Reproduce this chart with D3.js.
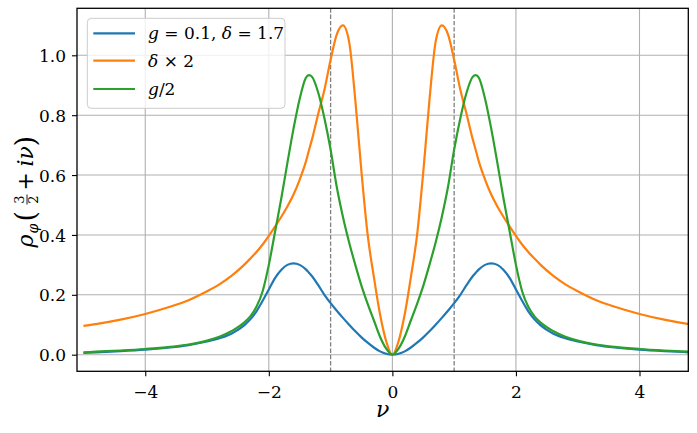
<!DOCTYPE html>
<html><head><meta charset="utf-8">
<script src="https://cdn.jsdelivr.net/npm/d3@7"></script>
<style>
html,body{margin:0;padding:0;background:#fff;}
svg{display:block;}
text{font-family:"DejaVu Serif","Liberation Serif",serif;fill:#000;}
</style></head>
<body>
<svg id="chart" width="697" height="433"></svg>
<script>
// ---- data ----
const nu = [-5.0,-4.8,-4.4,-4.0,-3.6,-3.3,-3.0,-2.8,-2.6,-2.4,-2.3,-2.2,-2.1,-2.0,-1.9,-1.8,-1.7,-1.6,-1.5,-1.4,-1.35,-1.3,-1.2,-1.1,-1.0,-0.9,-0.8,-0.7,-0.6,-0.5,-0.4,-0.3,-0.2,-0.1,
  0,
  0.1,0.2,0.3,0.4,0.5,0.6,0.7,0.8,0.9,1.0,1.1,1.2,1.3,1.35,1.4,1.5,1.6,1.7,1.8,1.9,2.0,2.1,2.2,2.3,2.4,2.6,2.8,3.0,3.3,3.6,4.0,4.4,4.8,5.0];

const rhoBase = [0.006,0.008,0.012,0.017,0.024,0.032,0.044,0.055,0.071,0.098,0.118,0.145,0.18,0.218,0.256,0.283,0.3,0.305,0.3,0.285,0.274,0.262,0.232,0.2,0.172,0.147,0.123,0.1,0.078,0.058,0.04,0.024,0.011,0.003,
  0,
  0.003,0.011,0.024,0.04,0.058,0.078,0.1,0.123,0.147,0.172,0.2,0.232,0.262,0.274,0.285,0.3,0.305,0.3,0.283,0.256,0.218,0.18,0.145,0.118,0.098,0.071,0.055,0.044,0.032,0.024,0.017,0.012,0.008,0.006];

const rhoDelta2 = [0.096,0.102,0.117,0.136,0.160,0.182,0.212,0.235,0.264,0.300,0.321,0.343,0.368,0.397,0.428,0.46,0.495,0.535,0.585,0.645,0.683,0.72,0.805,0.885,0.985,1.07,1.10,1.045,0.85,0.61,0.40,0.26,0.135,0.045,
  0,
  0.045,0.135,0.26,0.40,0.61,0.85,1.045,1.10,1.07,0.985,0.885,0.805,0.72,0.683,0.645,0.585,0.535,0.495,0.46,0.428,0.397,0.368,0.343,0.321,0.300,0.264,0.235,0.212,0.182,0.160,0.136,0.117,0.102,0.096];

const rhoGHalf = [0.008,0.010,0.014,0.019,0.026,0.034,0.047,0.060,0.079,0.107,0.128,0.160,0.212,0.300,0.410,0.520,0.640,0.755,0.855,0.925,0.934,0.928,0.875,0.79,0.685,0.56,0.46,0.375,0.30,0.23,0.17,0.115,0.06,0.02,
  0,
  0.02,0.06,0.115,0.17,0.23,0.30,0.375,0.46,0.56,0.685,0.79,0.875,0.928,0.934,0.925,0.855,0.755,0.640,0.520,0.410,0.300,0.212,0.160,0.128,0.107,0.079,0.060,0.047,0.034,0.026,0.019,0.014,0.010,0.008];

const xTicks = [-4, -2, 0, 2, 4];
const yTicks = [0.0, 0.2, 0.4, 0.6, 0.8, 1.0];
const vLines = [-1, 1];
const colors = ["#1f77b4", "#ff7f0e", "#2ca02c"];

// ---- layout ----
const svg = d3.select("#chart");
const L = 77, R = 688.3, T = 8.3, B = 371.3;
const x = d3.scaleLinear().domain([-5.105, 4.79]).range([L, R]);
const y = d3.scaleLinear().domain([-0.0555, 1.157]).range([B, T]);
const FONT = "'DejaVu Serif','Liberation Serif',serif";

svg.append("defs").append("clipPath").attr("id","clip")
  .append("rect").attr("x",L).attr("y",T).attr("width",R-L).attr("height",B-T);

// grid
const grid = svg.append("g");
grid.selectAll(".gx").data(xTicks).enter().append("line")
  .attr("x1",d=>x(d)).attr("x2",d=>x(d)).attr("y1",T).attr("y2",B)
  .attr("stroke","#b0b0b0").attr("stroke-width",1.1);
grid.selectAll(".gy").data(yTicks).enter().append("line")
  .attr("x1",L).attr("x2",R).attr("y1",d=>y(d)).attr("y2",d=>y(d))
  .attr("stroke","#b0b0b0").attr("stroke-width",1.1);

// dashed vertical lines
svg.append("g").selectAll("line").data(vLines).enter().append("line")
  .attr("x1",d=>x(d)).attr("x2",d=>x(d)).attr("y1",T).attr("y2",B)
  .attr("stroke","#808080").attr("stroke-width",1.3).attr("stroke-dasharray","4.4,1.9");

// curves
const dataSets = [rhoBase, rhoDelta2, rhoGHalf];
const line = d3.line().x(d=>x(d[0])).y(d=>y(d[1])).curve(d3.curveMonotoneX);
const plot = svg.append("g").attr("clip-path","url(#clip)");
dataSets.forEach((vals,i)=>{
  plot.append("path").datum(nu.map((v,j)=>[v, vals[j]]))
    .attr("d", line).attr("fill","none").attr("stroke",colors[i])
    .attr("stroke-width",2.2).attr("stroke-linejoin","round").attr("stroke-linecap","butt");
});

// axes
const fmtX = d => (d<0 ? "\u2212" : "") + Math.abs(d);
const xAxis = svg.append("g").attr("transform",`translate(0,${B})`)
  .call(d3.axisBottom(x).tickValues(xTicks).tickFormat(fmtX).tickSize(5).tickPadding(5));
const yAxis = svg.append("g").attr("transform",`translate(${L},0)`)
  .call(d3.axisLeft(y).tickValues(yTicks).tickFormat(d3.format(".1f")).tickSize(5).tickPadding(6));
[xAxis, yAxis].forEach(a=>{
  a.attr("font-family", FONT);
  a.select(".domain").remove();
  a.selectAll(".tick line").attr("stroke","#000").attr("stroke-width",1.1);
  a.selectAll(".tick text").style("font-family",FONT).attr("font-size",17).attr("fill","#000");
});
xAxis.selectAll(".tick text").attr("dy","1.0em");
yAxis.selectAll(".tick text").attr("dy","0.36em");

// frame
svg.append("rect").attr("x",L).attr("y",T).attr("width",R-L).attr("height",B-T)
  .attr("fill","none").attr("stroke","#000").attr("stroke-width",1.3);

// x label
svg.append("text").attr("x",(L+R)/2).attr("y",417).attr("text-anchor","middle")
  .style("font-family",FONT).attr("font-size",22).attr("font-style","italic").text("\u03bd");

// y label (rotated)
const yl = svg.append("g").attr("transform","translate(0,192.5) rotate(-90)").style("font-family",FONT);
yl.append("text").attr("x",-55).attr("y",33).attr("font-size",22).attr("font-style","italic").text("\u03c1");
yl.append("text").attr("x",-41).attr("y",38).attr("font-size",14).attr("font-style","italic").text("\u03c6");
yl.append("text").attr("x",-29).attr("y",35).attr("font-size",27).text("(");
yl.append("text").attr("x",-7).attr("y",24).attr("font-size",13).attr("text-anchor","middle").text("3");
yl.append("line").attr("x1",-12).attr("x2",-2).attr("y1",27).attr("y2",27).attr("stroke","#000").attr("stroke-width",0.9);
yl.append("text").attr("x",-7).attr("y",38).attr("font-size",13).attr("text-anchor","middle").text("2");
yl.append("text").attr("x",2).attr("y",33).attr("font-size",22).text("+");
yl.append("text").attr("x",26).attr("y",33).attr("font-size",22).attr("font-style","italic").text("i\u03bd");
yl.append("text").attr("x",46).attr("y",35).attr("font-size",27).text(")");

// legend
const lg = svg.append("g").style("font-family",FONT);
lg.append("rect").attr("x",87.3).attr("y",18.3).attr("width",197.7).attr("height",90)
  .attr("rx",4).attr("fill","#fff").attr("fill-opacity",0.8).attr("stroke","#cccccc").attr("stroke-width",1);
const legYs = [33.3, 60.7, 89];
const legTexts = [
  [["g",1],[" = 0.1, ",0],["\u03b4",1],[" = 1.7",0]],
  [["\u03b4",1],[" \u00d7 2",0]],
  [["g",1],["/2",0]]
];
legYs.forEach((ly,i)=>{
  lg.append("line").attr("x1",93.3).attr("x2",135).attr("y1",ly).attr("y2",ly)
    .attr("stroke",colors[i]).attr("stroke-width",2.2);
  const t = lg.append("text").attr("x",148).attr("y",ly+6).attr("font-size",17);
  legTexts[i].forEach(p=>{
    t.append("tspan").attr("font-style",p[1]?"italic":"normal").text(p[0]);
  });
});
</script>
</body></html>
